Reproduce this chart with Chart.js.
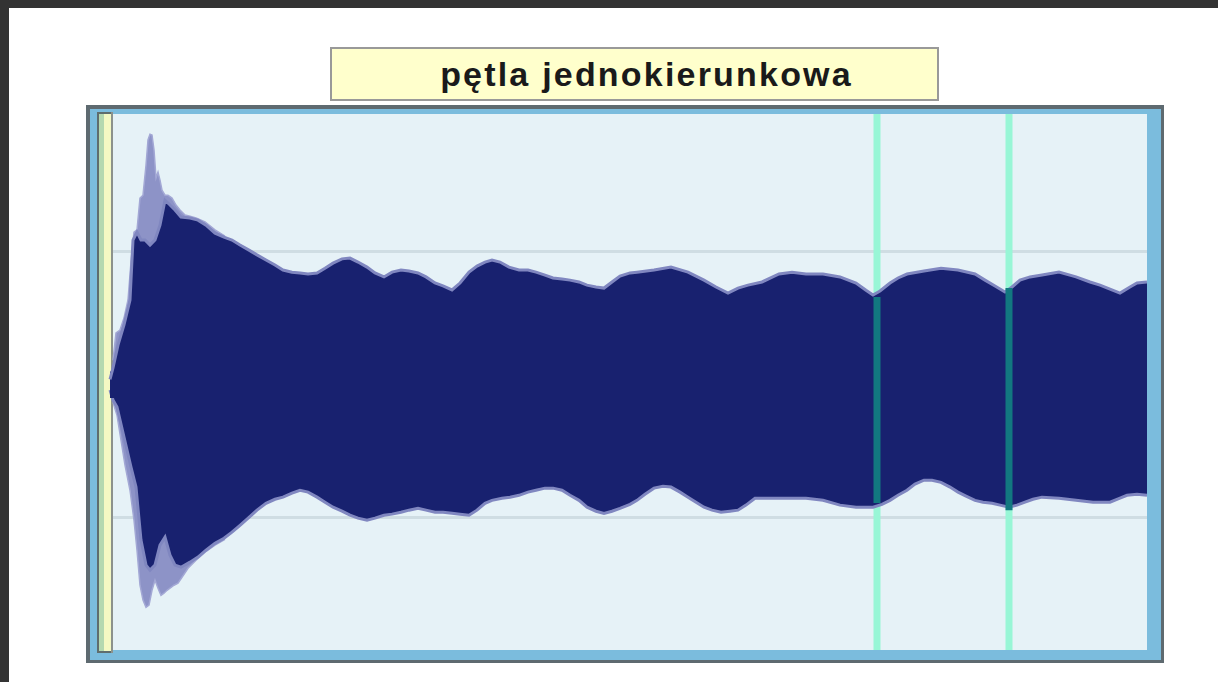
<!DOCTYPE html>
<html>
<head>
<meta charset="utf-8">
<script src="https://cdn.jsdelivr.net/npm/chart.js@4.4.1/dist/chart.umd.min.js"></script>
<style>
  html, body { margin: 0; padding: 0; background: #ffffff; width: 1218px; height: 682px; overflow: hidden; }
  #topband { position: absolute; left: 0; top: 0; width: 1218px; height: 8px; background: #333333; }
  #leftband { position: absolute; left: 0; top: 0; width: 9px; height: 682px; background: #333333; }
  #c { position: absolute; left: 0; top: 0; }
  #title {
    position: absolute; left: 330px; top: 47px; width: 609px; height: 54px;
    box-sizing: border-box; border: 2px solid #999999; background: #ffffcc;
    font-family: "Liberation Sans", Arial, sans-serif; font-weight: bold;
    font-size: 34px; letter-spacing: 2.2px; color: #1a1a1a;
    text-align: center; line-height: 50px; padding-left: 24px; z-index: 2;
  }
</style>
</head>
<body>
<div id="topband"></div>
<div id="leftband"></div>
<canvas id="c" width="1218" height="682"></canvas>
<div id="title"></div>
<script>
// ---- data ----
const titleText = "pętla jednokierunkowa";

// upper envelope of the dense waveform (time units, amplitude)
const upperTimes = [13,16,21,27,33,36,40,44,48,53,58,63,68,73,78,84,93,101,109,118,127,135,143,152,160,169,178,186,195,203,211,220,228,236,245,253,261,270,278,287,295,304,312,321,329,338,346,355,363,372,380,388,395,403,412,422,431,439,448,456,465,473,482,490,499,507,515,523,533,540,557,574,591,607,619,631,641,651,665,682,695,709,726,743,759,769,776,783,793,801,810,827,844,861,878,888,898,908,915,923,933,945,962,979,993,1003,1013,1023,1033,1040,1050];
const upperCore = [0.02,0.063,0.149,0.225,0.319,0.545,0.575,0.545,0.545,0.526,0.545,0.601,0.695,0.677,0.658,0.632,0.628,0.620,0.601,0.571,0.556,0.545,0.526,0.507,0.489,0.470,0.451,0.432,0.424,0.421,0.417,0.421,0.439,0.458,0.474,0.477,0.462,0.443,0.421,0.406,0.424,0.432,0.428,0.421,0.406,0.383,0.372,0.357,0.383,0.424,0.447,0.462,0.470,0.462,0.443,0.432,0.432,0.424,0.413,0.402,0.398,0.394,0.387,0.375,0.368,0.364,0.387,0.409,0.421,0.424,0.432,0.443,0.424,0.394,0.368,0.345,0.364,0.375,0.387,0.417,0.424,0.417,0.417,0.406,0.383,0.356,0.338,0.353,0.383,0.402,0.417,0.428,0.439,0.432,0.417,0.394,0.372,0.349,0.368,0.394,0.406,0.413,0.424,0.406,0.387,0.375,0.360,0.345,0.368,0.383,0.387];

// lower envelope of the dense waveform
const lowerTimes = [13,16,20,27,34,39,44,49,53,58,63,68,73,78,84,93,101,109,118,127,135,143,152,160,169,178,186,195,203,211,220,228,236,245,253,261,270,278,287,295,304,312,321,329,338,346,355,363,372,380,388,395,405,413,422,431,439,448,456,465,473,482,490,499,507,515,523,533,540,548,557,566,574,583,591,599,607,615,624,633,641,649,658,675,692,709,726,743,759,776,785,793,801,810,818,827,835,844,853,861,869,878,886,895,903,912,920,928,936,945,962,979,996,1013,1023,1030,1040,1050];
const lowerCore = [-0.02,-0.058,-0.084,-0.198,-0.311,-0.386,-0.586,-0.680,-0.699,-0.680,-0.605,-0.575,-0.643,-0.680,-0.688,-0.669,-0.650,-0.624,-0.598,-0.579,-0.556,-0.530,-0.500,-0.473,-0.447,-0.432,-0.424,-0.409,-0.398,-0.405,-0.424,-0.443,-0.462,-0.477,-0.492,-0.503,-0.511,-0.503,-0.492,-0.488,-0.481,-0.473,-0.466,-0.473,-0.481,-0.481,-0.485,-0.488,-0.492,-0.473,-0.447,-0.436,-0.428,-0.424,-0.417,-0.405,-0.398,-0.390,-0.390,-0.398,-0.417,-0.436,-0.462,-0.477,-0.485,-0.477,-0.466,-0.451,-0.436,-0.413,-0.390,-0.383,-0.386,-0.405,-0.424,-0.443,-0.462,-0.473,-0.481,-0.477,-0.473,-0.454,-0.428,-0.428,-0.428,-0.428,-0.436,-0.454,-0.462,-0.462,-0.451,-0.436,-0.417,-0.398,-0.375,-0.360,-0.360,-0.368,-0.386,-0.405,-0.420,-0.436,-0.443,-0.447,-0.454,-0.462,-0.454,-0.443,-0.432,-0.424,-0.428,-0.436,-0.443,-0.443,-0.428,-0.417,-0.413,-0.417];

// light peaks of the attack (onset)
const onsetUpperTimes = [16,19,23,27,31,34,37,40,43,46,49,51,53,55,57,59,61,63,65,68,71,75,79,83,88,93,99,108,118,128];
const onsetUpperPeak = [0.092,0.195,0.206,0.251,0.319,0.462,0.575,0.583,0.703,0.714,0.827,0.922,0.944,0.941,0.884,0.779,0.801,0.771,0.733,0.714,0.714,0.703,0.677,0.658,0.639,0.635,0.628,0.613,0.583,0.560];
const onsetLowerTimes = [16,20,24,28,33,37,40,43,46,49,52,55,58,61,64,67,70,73,77,81,85,91,99,108,118,128];
const onsetLowerPeak = [-0.066,-0.115,-0.209,-0.303,-0.398,-0.511,-0.624,-0.756,-0.812,-0.839,-0.831,-0.775,-0.737,-0.767,-0.794,-0.786,-0.775,-0.767,-0.756,-0.748,-0.726,-0.692,-0.662,-0.631,-0.605,-0.583];

// loop markers
const markerTimes = [780, 912];
const markerTop = [0.330, 0.364];
const markerBottom = [-0.446, -0.473];

// selected region at the start
const selection = [0, 16];

// axis setup
const timeRange = [0, 1050];
const ampRange = [-1, 1.02];
const gridTicks = [-0.5, 0.5];

// ---- build ----
document.getElementById('title').textContent = titleText;
const pts = (xs, ys) => xs.map((x, i) => ({ x: x, y: ys[i] }));

const NAVY = '#18216f';
const FRINGE = '#8087c0';

const datasets = [];
markerTimes.forEach((t, i) => {
  datasets.push({
    data: [{ x: t, y: markerBottom[i] }, { x: t, y: markerTop[i] }],
    borderColor: '#127880', borderWidth: 7, pointRadius: 0, fill: false, order: 0, clip: 0
  });
});
datasets.push({
  data: pts(upperTimes, upperCore), borderColor: FRINGE, borderWidth: 3,
  backgroundColor: NAVY, fill: { target: { value: -0.05 } }, pointRadius: 0, order: 1
});
datasets.push({
  data: pts(lowerTimes, lowerCore), borderColor: FRINGE, borderWidth: 3,
  backgroundColor: NAVY, fill: { target: { value: 0.05 } }, pointRadius: 0, order: 1
});
datasets.push({
  data: pts(onsetUpperTimes, onsetUpperPeak), borderColor: '#a3a8d5', borderWidth: 1.5,
  backgroundColor: '#8d93c7', fill: 'origin', pointRadius: 0, order: 2
});
datasets.push({
  data: pts(onsetLowerTimes, onsetLowerPeak), borderColor: '#a3a8d5', borderWidth: 1.5,
  backgroundColor: '#8d93c7', fill: 'origin', pointRadius: 0, order: 2
});
markerTimes.forEach((t) => {
  datasets.push({
    data: [{ x: t, y: ampRange[0] }, { x: t, y: ampRange[1] }],
    borderColor: '#98f6d6', borderWidth: 7, pointRadius: 0, fill: false, order: 3, clip: 0
  });
});

const framePlugin = {
  id: 'frame',
  beforeDraw(chart) {
    const ctx = chart.ctx, a = chart.chartArea;
    ctx.save();
    ctx.fillStyle = '#5e6a70';
    ctx.fillRect(a.left - 11, a.top - 9, a.right - a.left + 28, a.bottom - a.top + 22);
    ctx.fillStyle = '#7bbcdd';
    ctx.fillRect(a.left - 7, a.top - 5, a.right - a.left + 21, a.bottom - a.top + 15);
    ctx.fillStyle = '#e6f2f7';
    ctx.fillRect(a.left, a.top, a.right - a.left, a.bottom - a.top);
    ctx.restore();
  },
  beforeDatasetsDraw(chart) {
    const ctx = chart.ctx, a = chart.chartArea, xs = chart.scales.x;
    const x0 = xs.getPixelForValue(selection[0]);
    const x1 = xs.getPixelForValue(selection[1]);
    const top = a.top - 2, bot = a.bottom + 3;
    ctx.save();
    ctx.fillStyle = '#5f6d6d';
    ctx.fillRect(x0, top, x1 - x0, bot - top);
    ctx.fillStyle = '#8c928c';
    ctx.fillRect(x1 - 2, top, 2, bot - top);
    ctx.fillStyle = '#b3d8b0';
    ctx.fillRect(x0 + 2, top + 2, 5, bot - top - 4);
    ctx.fillStyle = '#f3f8c3';
    ctx.fillRect(x0 + 7, top + 2, x1 - x0 - 9, bot - top - 4);
    ctx.restore();
  }
};

new Chart(document.getElementById('c'), {
  type: 'line',
  data: { datasets: datasets },
  options: {
    responsive: false,
    devicePixelRatio: 1,
    animation: false,
    parsing: true,
    layout: { padding: { left: 97, top: 114, right: 71, bottom: 32 } },
    elements: { line: { tension: 0 } },
    plugins: { legend: { display: false }, title: { display: false }, tooltip: { enabled: false } },
    scales: {
      x: { type: 'linear', min: timeRange[0], max: timeRange[1], display: false },
      y: {
        type: 'linear', min: ampRange[0], max: ampRange[1],
        afterBuildTicks: (s) => { s.ticks = gridTicks.map(v => ({ value: v })); },
        ticks: { display: false },
        grid: { drawTicks: false, color: '#cfdde3', lineWidth: 3 },
        border: { display: false }
      }
    }
  },
  plugins: [framePlugin]
});
</script>
</body>
</html>
